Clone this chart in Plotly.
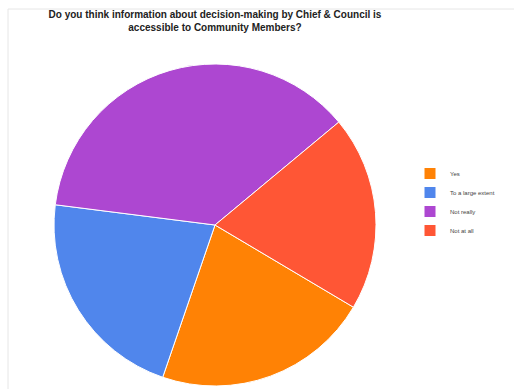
import plotly.graph_objects as go

labels = ["Yes", "To a large extent", "Not really", "Not at all"]
values = [10, 10, 17, 9]
colors = ["#FF8205", "#5086EC", "#AD47D1", "#FF5635"]

fig = go.Figure(go.Pie(
    labels=labels,
    values=values,
    sort=False,
    direction="clockwise",
    rotation=120.7,
    marker=dict(colors=colors, line=dict(color="#FFFFFF", width=1)),
    textinfo="none",
    hoverinfo="label+percent",
    domain=dict(x=[54/514, 376/514], y=[1-386/389, 1-64/389]),
))

fig.update_layout(
    width=514, height=389,
    margin=dict(l=0, r=0, t=0, b=0),
    paper_bgcolor="white",
    title=dict(
        text="<b>Do you think information about decision-making by Chief & Council is<br>accessible to Community Members?</b>",
        x=215/514, xanchor="center", y=1-18/389, yanchor="top",
        font=dict(family="Liberation Sans, Arial", size=10, color="#222222"),
    ),
    legend=dict(
        x=410/514, y=1-159/389, xanchor="left", yanchor="top",
        font=dict(family="Liberation Sans, Arial", size=6, color="#444444"),
        itemwidth=30,
        tracegroupgap=0,
    ),
    shapes=[
        dict(type="line", xref="paper", yref="paper", x0=8/514, x1=1, y0=1-9/389, y1=1-9/389,
             line=dict(color="#E6E6E6", width=1)),
        dict(type="line", xref="paper", yref="paper", x0=8/514, x1=8/514, y0=0, y1=1-9/389,
             line=dict(color="#E6E6E6", width=1)),
    ],
)

fig.write_html("out.html")
